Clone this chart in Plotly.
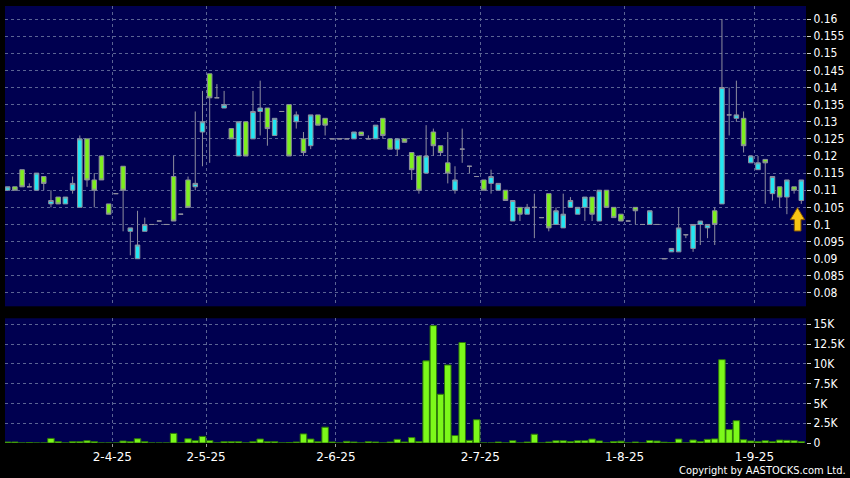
import plotly.graph_objects as go

# daily candles (trading-day index), prices in HKD
day_idx = list(range(111))

open_ = [0.110, 0.111, 0.116, 0.111, 0.110, 0.114, 0.106, 0.108, 0.106, 0.110,
         0.105, 0.125, 0.113, 0.120, 0.106, 0.109, 0.117, 0.098, 0.090, 0.098,
         0.100, 0.101, 0.100, 0.114, 0.103, 0.113, 0.111, 0.127, 0.144, 0.137,
         0.134, 0.128, 0.120, 0.130, 0.125, 0.133, 0.134, 0.126, 0.133, 0.135,
         0.130, 0.125, 0.123, 0.132, 0.131, 0.125, 0.125, 0.125, 0.125, 0.127,
         0.125, 0.125, 0.131, 0.125, 0.122, 0.125, 0.121, 0.120, 0.115, 0.127,
         0.123, 0.118, 0.110, 0.122, 0.117, 0.114, 0.113, 0.112, 0.110, 0.110,
         0.101, 0.105, 0.103, 0.105, 0.102, 0.109, 0.100, 0.099, 0.105, 0.103,
         0.105, 0.108, 0.101, 0.110, 0.105, 0.103, 0.101, 0.105, 0.100, 0.100,
         0.100, 0.090, 0.092, 0.092, 0.097, 0.093, 0.100, 0.099, 0.104, 0.106,
         0.132, 0.131, 0.131, 0.118, 0.116, 0.119, 0.109, 0.111, 0.108, 0.111,
         0.107]

high = [0.111, 0.111, 0.116, 0.112, 0.115, 0.114, 0.110, 0.108, 0.108, 0.114,
        0.126, 0.125, 0.115, 0.120, 0.106, 0.109, 0.117, 0.099, 0.104, 0.102,
        0.100, 0.101, 0.100, 0.120, 0.103, 0.114, 0.133, 0.139, 0.144, 0.141,
        0.139, 0.128, 0.130, 0.130, 0.139, 0.142, 0.134, 0.131, 0.133, 0.135,
        0.133, 0.127, 0.132, 0.132, 0.131, 0.125, 0.125, 0.125, 0.127, 0.127,
        0.126, 0.129, 0.131, 0.125, 0.125, 0.125, 0.121, 0.120, 0.129, 0.128,
        0.123, 0.127, 0.117, 0.128, 0.117, 0.114, 0.113, 0.116, 0.112, 0.110,
        0.107, 0.105, 0.106, 0.109, 0.102, 0.109, 0.105, 0.109, 0.108, 0.105,
        0.108, 0.108, 0.110, 0.110, 0.105, 0.103, 0.101, 0.105, 0.100, 0.104,
        0.100, 0.090, 0.093, 0.105, 0.097, 0.100, 0.101, 0.100, 0.105, 0.160,
        0.140, 0.142, 0.133, 0.120, 0.120, 0.119, 0.114, 0.111, 0.113, 0.111,
        0.113]

low = [0.110, 0.110, 0.111, 0.111, 0.110, 0.110, 0.105, 0.106, 0.106, 0.109,
       0.105, 0.111, 0.105, 0.113, 0.103, 0.109, 0.098, 0.091, 0.090, 0.098,
       0.100, 0.101, 0.100, 0.101, 0.103, 0.105, 0.110, 0.117, 0.118, 0.137,
       0.134, 0.125, 0.120, 0.120, 0.125, 0.126, 0.123, 0.126, 0.133, 0.120,
       0.128, 0.120, 0.122, 0.129, 0.126, 0.125, 0.125, 0.125, 0.125, 0.126,
       0.125, 0.125, 0.125, 0.122, 0.120, 0.124, 0.113, 0.109, 0.115, 0.120,
       0.120, 0.112, 0.109, 0.118, 0.115, 0.114, 0.110, 0.109, 0.110, 0.107,
       0.101, 0.101, 0.103, 0.096, 0.102, 0.098, 0.100, 0.099, 0.105, 0.103,
       0.101, 0.101, 0.101, 0.105, 0.102, 0.101, 0.101, 0.100, 0.100, 0.100,
       0.100, 0.090, 0.092, 0.092, 0.096, 0.092, 0.094, 0.096, 0.094, 0.106,
       0.126, 0.130, 0.121, 0.118, 0.116, 0.106, 0.107, 0.105, 0.103, 0.109,
       0.106]

close = [0.111, 0.110, 0.111, 0.111, 0.115, 0.112, 0.107, 0.106, 0.108, 0.112,
         0.125, 0.113, 0.110, 0.113, 0.103, 0.109, 0.110, 0.099, 0.094, 0.100,
         0.100, 0.101, 0.100, 0.101, 0.103, 0.105, 0.112, 0.130, 0.137, 0.137,
         0.135, 0.125, 0.130, 0.120, 0.133, 0.134, 0.128, 0.131, 0.133, 0.120,
         0.132, 0.121, 0.132, 0.129, 0.129, 0.125, 0.125, 0.125, 0.127, 0.126,
         0.125, 0.129, 0.126, 0.122, 0.125, 0.124, 0.116, 0.110, 0.120, 0.123,
         0.121, 0.115, 0.113, 0.122, 0.117, 0.114, 0.110, 0.114, 0.112, 0.107,
         0.107, 0.103, 0.105, 0.105, 0.102, 0.099, 0.104, 0.103, 0.107, 0.105,
         0.108, 0.103, 0.110, 0.105, 0.102, 0.101, 0.101, 0.104, 0.100, 0.104,
         0.100, 0.090, 0.093, 0.099, 0.097, 0.100, 0.101, 0.100, 0.100, 0.140,
         0.132, 0.132, 0.123, 0.120, 0.118, 0.118, 0.114, 0.108, 0.113, 0.110,
         0.113]

volume = [125, 125, 0, 60, 0, 0, 580, 170, 0, 170,
          170, 290, 170, 0, 0, 0, 250, 170, 540, 170,
          0, 0, 0, 1210, 0, 540, 290, 830, 290, 0,
          170, 170, 170, 0, 170, 500, 170, 170, 0, 60,
          125, 1150, 500, 170, 2000, 125, 0, 210, 125, 0,
          170, 125, 0, 125, 460, 125, 680, 180, 10380, 14830,
          6160, 9860, 940, 12700, 330, 2940, 0, 0, 125, 0,
          290, 0, 125, 1110, 0, 125, 290, 290, 180, 290,
          290, 500, 260, 0, 180, 230, 0, 125, 0, 310,
          250, 100, 60, 500, 0, 380, 190, 460, 520, 10530,
          1700, 2820, 420, 250, 170, 290, 170, 370, 335, 290,
          170]

# month starts (between trading-day slots) and their labels
date_ticks = [14.5, 27.5, 45.5, 65.5, 85.5, 103.5]
date_labels = ["2-4-25", "2-5-25", "2-6-25", "2-7-25", "1-8-25", "1-9-25"]

price_ticks = [0.08, 0.085, 0.09, 0.095, 0.1, 0.105, 0.11, 0.115, 0.12,
               0.125, 0.13, 0.135, 0.14, 0.145, 0.15, 0.155, 0.16]
price_labels = ["0.08", "0.085", "0.09", "0.095", "0.1", "0.105", "0.11", "0.115", "0.12",
                "0.125", "0.13", "0.135", "0.14", "0.145", "0.15", "0.155", "0.16"]

vol_ticks = [0, 2500, 5000, 7500, 10000, 12500, 15000]
vol_labels = ["0", "2.5K", "5K", "7.5K", "10K", "12.5K", "15K"]

NAVY = "#000050"
GRID = "#5b6494"
CYAN = "#22e6f2"
GREEN = "#7def1e"
EDGE = "#8e8e9e"

fig = go.Figure()

fig.add_trace(go.Candlestick(
    x=day_idx, open=open_, high=high, low=low, close=close,
    increasing=dict(fillcolor=CYAN, line=dict(color=EDGE, width=1)),
    decreasing=dict(fillcolor=GREEN, line=dict(color=EDGE, width=1)),
    whiskerwidth=0,
    xaxis="x", yaxis="y",
    showlegend=False,
))

fig.add_trace(go.Bar(
    x=day_idx, y=volume,
    marker=dict(color="#7cf81a", line=dict(color="#2e7a08", width=1)),
    xaxis="x2", yaxis="y2",
    showlegend=False,
))

# little yellow arrow under the last candle
fig.add_shape(
    type="path",
    path="M 109.47 0.1049 L 110.46 0.1014 L 109.95 0.1014 L 109.95 0.0981 "
         "L 109.03 0.0981 L 109.03 0.1014 L 108.47 0.1014 Z",
    xref="x", yref="y",
    fillcolor="#f8c514", line=dict(color="#8a5a00", width=1),
)

axis_common = dict(
    gridcolor=GRID, griddash="3px,3px", gridwidth=1,
    zeroline=False, showline=False,
)

fig.update_layout(
    width=850, height=478,
    paper_bgcolor="black", plot_bgcolor=NAVY,
    margin=dict(l=5, r=42, t=5, b=35),
    font=dict(family="DejaVu Sans", color="white", size=12),
    boxgap=0.1, bargap=0.1,
    xaxis=dict(
        domain=[0, 1], anchor="y", range=[-0.37, 110.65],
        tickvals=date_ticks, showticklabels=False, ticks="",
        rangeslider=dict(visible=False), **axis_common,
    ),
    xaxis2=dict(
        domain=[0, 1], anchor="y2", matches="x",
        tickvals=date_ticks, ticktext=date_labels,
        ticks="outside", ticklen=3, tickcolor="#9a9a9a",
        tickfont=dict(size=12, color="white"),
        **axis_common,
    ),
    yaxis=dict(
        domain=[0.3128, 1], anchor="x", side="right",
        range=[0.0761, 0.1638],
        tickvals=price_ticks, ticktext=price_labels,
        ticks="outside", ticklen=4, tickcolor="#cfcfcf",
        tickfont=dict(family="DejaVu Sans Condensed, DejaVu Sans", size=12),
        **axis_common,
    ),
    yaxis2=dict(
        domain=[0, 0.2854], anchor="x2", side="right",
        range=[0, 15760],
        tickvals=vol_ticks, ticktext=vol_labels,
        ticks="outside", ticklen=4, tickcolor="#cfcfcf",
        tickfont=dict(family="DejaVu Sans Condensed, DejaVu Sans", size=12),
        **axis_common,
    ),
)

fig.add_annotation(
    text="Copyright by AASTOCKS.com Ltd.",
    xref="paper", yref="paper", x=1.053, y=-0.062,
    xanchor="right", yanchor="middle", showarrow=False,
    font=dict(family="DejaVu Sans Condensed, DejaVu Sans", size=11, color="white"),
)

# page body has a default 8px margin; drop it so the chart sits at the top-left
fig.write_html(
    "out.html",
    config={"displayModeBar": False},
    post_script="document.body.style.margin='0px';",
)
